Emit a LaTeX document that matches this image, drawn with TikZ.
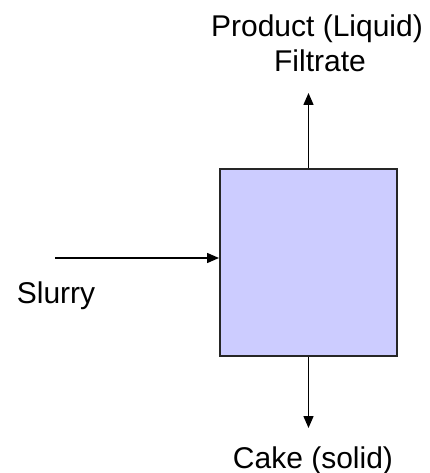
\documentclass[tikz,border=0pt]{standalone}
\usepackage{fontspec}
\setmainfont{Liberation Sans}
\usetikzlibrary{arrows.meta}
\definecolor{filterblue}{RGB}{204,204,255}
\begin{document}
\begin{tikzpicture}[x=1pt,y=-1pt,
  stream/.style={line width=1.5pt, -{Triangle[length=12pt,width=10pt]}},
  flowtext/.style={font=\fontsize{30}{35}\selectfont, inner sep=0pt, anchor=base},
  unitbox/.style={draw=black!85, line width=2pt, fill=filterblue,
    minimum width=177pt, minimum height=187pt, inner sep=0pt}]
\useasboundingbox (0,0) rectangle (430,473);

% filter unit
\node[unitbox] (box) at (308.5,262.5) {};

% stream labels
\node[flowtext] (prod)   at (317,37)  {Product (Liquid)};
\node[flowtext] (filt)   at (320,72)  {Filtrate};
\node[flowtext] (cake)   at (313,468) {Cake (solid)};
\node[flowtext] (slurry) at (56,303)  {Slurry};

% free ends of the streams
\coordinate (sin)  at (55,258);
\coordinate (ptip) at (308.5,93);
\coordinate (ctip) at (308.5,428);

% streams
\draw[stream] (sin) -- (sin -| box.west);
\draw[stream] (box.north) -- (ptip);
\draw[stream] (box.south) -- (ctip);
\end{tikzpicture}
\end{document}
